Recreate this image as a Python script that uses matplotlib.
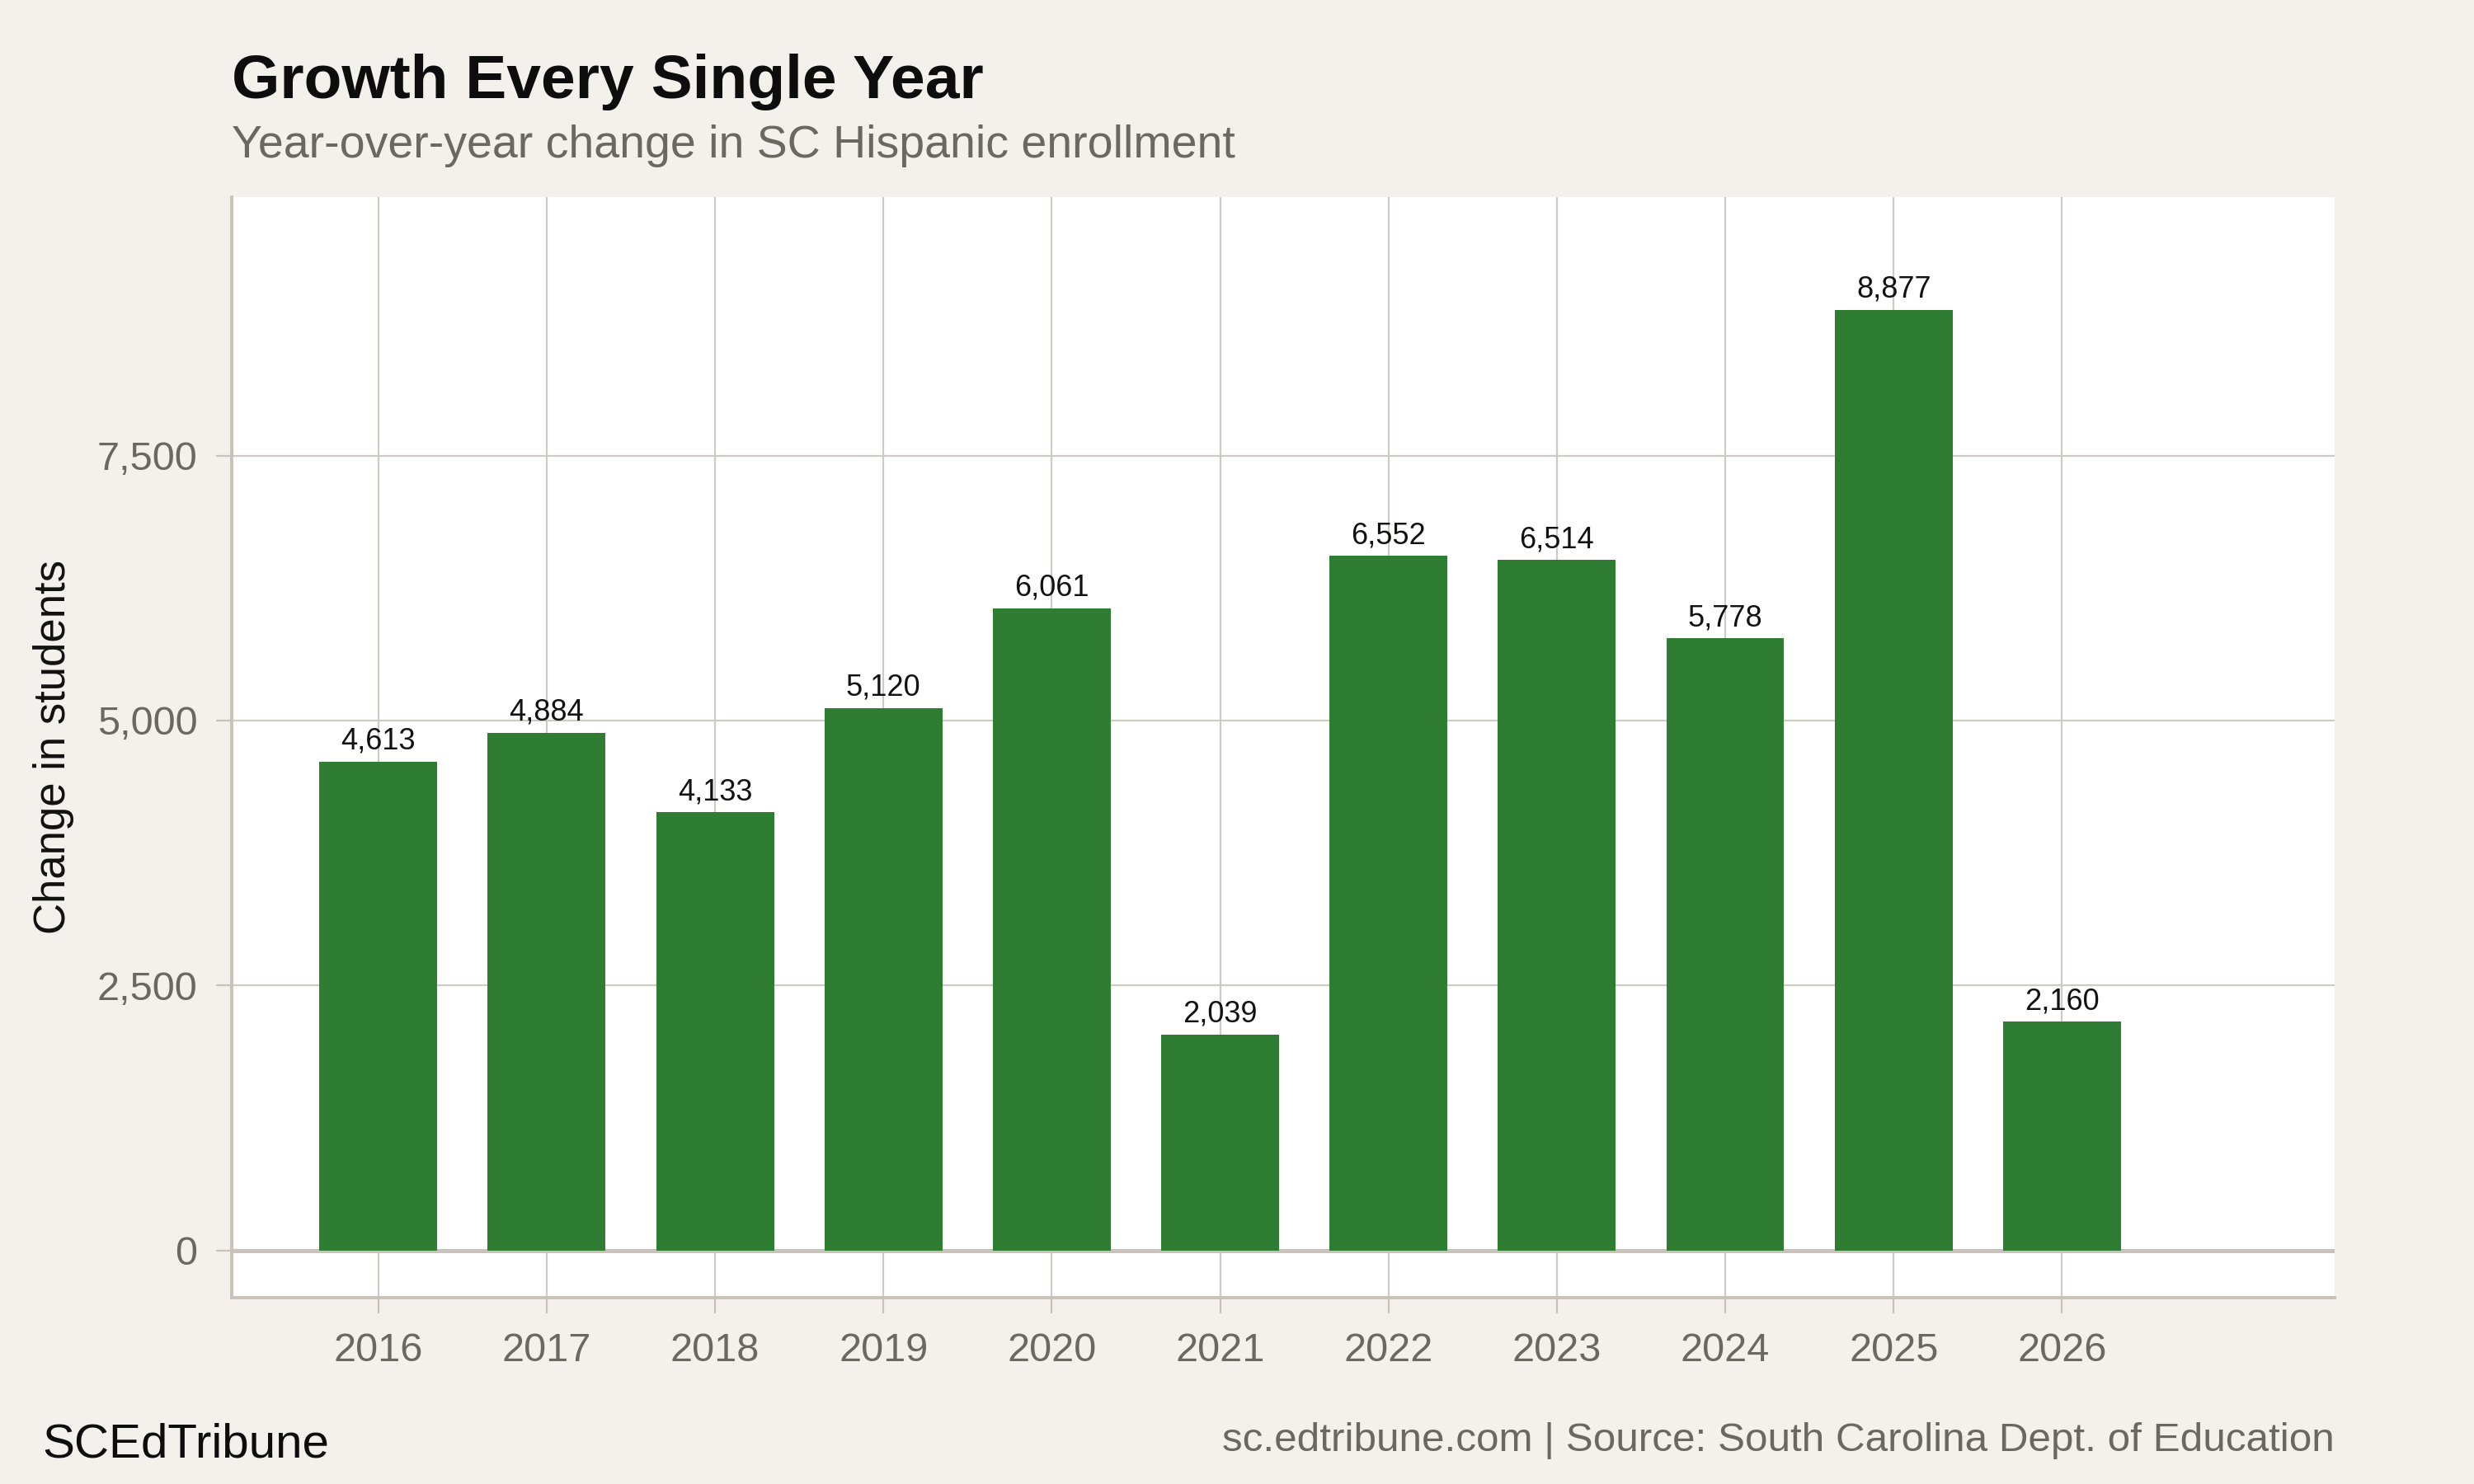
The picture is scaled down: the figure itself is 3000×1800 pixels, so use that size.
import numpy as np
import matplotlib
matplotlib.use("Agg")
import matplotlib.pyplot as plt
from matplotlib.ticker import FuncFormatter

years = [2016, 2017, 2018, 2019, 2020, 2021, 2022, 2023, 2024, 2025, 2026]
change = [4613, 4884, 4133, 5120, 6061, 2039, 6552, 6514, 5778, 8877, 2160]
yticks = [0, 2500, 5000, 7500]

title = "Growth Every Single Year"
subtitle = "Year-over-year change in SC Hispanic enrollment"
ylabel = "Change in students"
brand = "SCEdTribune"
source = "sc.edtribune.com | Source: South Carolina Dept. of Education"

bg = "#f4f1ec"
bar_color = "#2e7d32"
grid_color = "#cfcac2"
axis_color = "#c9c2b8"
gray_text = "#6b6862"

plt.rcParams['font.family'] = ['Liberation Sans', 'DejaVu Sans']

fig = plt.figure(figsize=(15, 9), dpi=200, facecolor=bg)
ax = fig.add_axes([0.0937, 0.1256, 0.85, 0.7416])
ax.set_facecolor("white")

bars = ax.bar(years, change, width=0.7, color=bar_color, zorder=3)
for b, v in zip(bars, change):
    ax.annotate(f"{v:,}", (b.get_x() + b.get_width() / 2, v),
                xytext=(0, 2.5), textcoords="offset points",
                ha="center", va="bottom", fontsize=13, color="#111111", zorder=4)

ax.set_xlim(2015.13, 2027.62)
ax.set_ylim(-446, 9940)
ax.set_xticks(years)
ax.set_yticks(yticks)
ax.yaxis.set_major_formatter(FuncFormatter(lambda v, p: f"{int(v):,}"))

ax.grid(True, color=grid_color, linewidth=0.8, zorder=0)
ax.axhline(0, color=axis_color, linewidth=1.8, zorder=2)

for side in ["top", "right"]:
    ax.spines[side].set_visible(False)
for side in ["left", "bottom"]:
    ax.spines[side].set_color(axis_color)
    ax.spines[side].set_linewidth(1.4)

ax.tick_params(axis="both", colors=axis_color, labelcolor=gray_text,
               labelsize=17.5, length=7, width=0.8, pad=8)

ax.set_ylabel(ylabel, fontsize=19, color="#111111", labelpad=10)

fig.text(0.0937, 0.934, title, fontsize=27, fontweight="bold",
         color="#0d0d0d", ha="left", va="baseline")
fig.text(0.0937, 0.894, subtitle, fontsize=20, color=gray_text,
         ha="left", va="baseline")
fig.text(0.017, 0.018, brand, fontsize=21, color="#0d0d0d",
         ha="left", va="baseline")
fig.text(0.9437, 0.022, source, fontsize=17.8, color=gray_text,
         ha="right", va="baseline")

fig.savefig("out.png", dpi=200, facecolor=bg)
